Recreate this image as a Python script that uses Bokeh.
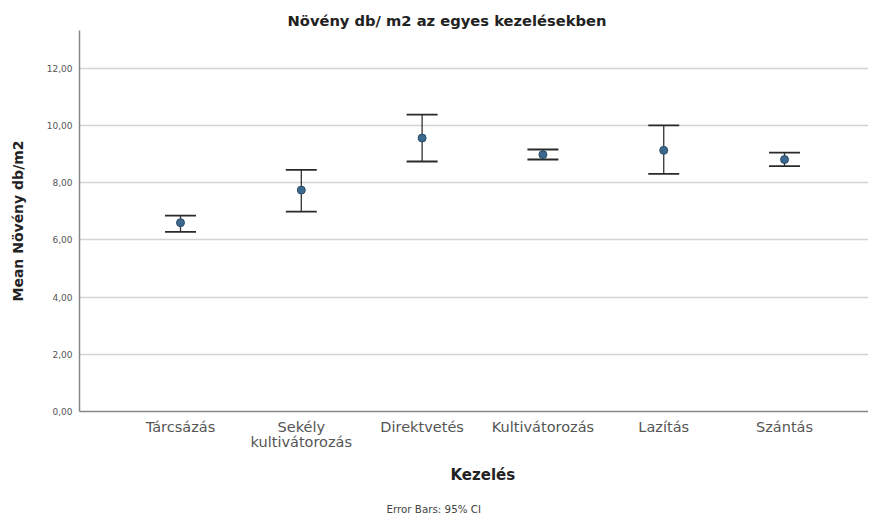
from bokeh.plotting import figure
from bokeh.models import Range1d, FixedTicker, Whisker, TeeHead, ColumnDataSource, Title, LinearAxis
from bokeh.embed import file_html
from bokeh.resources import INLINE

categories = ["Tárcsázás", "Sekély kultivátorozás", "Direktvetés", "Kultivátorozás", "Lazítás", "Szántás"]
tick_line1 = ["Tárcsázás", "Sekély", "Direktvetés", "Kultivátorozás", "Lazítás", "Szántás"]
tick_line2 = ["", "kultivátorozás", "", "", "", ""]
means = [6.60, 7.74, 9.56, 8.98, 9.13, 8.81]
ci_lower = [6.28, 6.99, 8.74, 8.81, 8.31, 8.58]
ci_upper = [6.85, 8.45, 10.38, 9.16, 10.00, 9.05]
y_ticks = [0, 2, 4, 6, 8, 10, 12]
y_tick_labels = ["0,00", "2,00", "4,00", "6,00", "8,00", "10,00", "12,00"]

FONT = "DejaVu Sans"
x_pos = list(range(len(categories)))

p = figure(width=868, height=521, output_backend="svg", toolbar_location=None,
           x_range=Range1d(-0.836, len(categories) - 1 + 0.695),
           y_range=Range1d(0, 13.32),
           min_border_left=79, min_border_right=0, min_border_top=30, min_border_bottom=110)
p.outline_line_color = None
p.background_fill_color = "white"
p.border_fill_color = "white"

p.title.text = "Növény db/ m2 az egyes kezelésekben"
p.title.text_font = FONT
p.title.text_font_size = "14.7px"
p.title.text_font_style = "bold"
p.title.text_color = "#222222"
p.title.align = "left"
p.title.offset = 208
p.title.standoff = 4

# grid
p.xgrid.grid_line_color = None
p.ygrid.grid_line_color = "#d4d4d4"
p.ygrid.grid_line_width = 1.5
p.ygrid.ticker = FixedTicker(ticks=y_ticks)

# y axis
p.yaxis.ticker = FixedTicker(ticks=y_ticks)
p.yaxis.major_label_overrides = {t: l for t, l in zip(y_ticks, y_tick_labels)}
p.yaxis.major_label_text_font = FONT
p.yaxis.major_label_text_font_size = "9px"
p.yaxis.major_label_text_color = "#555555"
p.yaxis.major_tick_out = 0
p.yaxis.major_tick_in = 0
p.yaxis.minor_tick_out = 0
p.yaxis.minor_tick_in = 0
p.yaxis.major_label_standoff = 7
p.yaxis.axis_line_color = "#888888"
p.yaxis.axis_line_width = 1.5
p.yaxis.axis_label = "Mean Növény db/m2"
p.yaxis.axis_label_text_font = FONT
p.yaxis.axis_label_text_font_size = "14px"
p.yaxis.axis_label_text_font_style = "bold"
p.yaxis.axis_label_text_color = "#222222"
p.yaxis.axis_label_standoff = 18

# x axis (first line of category labels)
xa = p.xaxis[0]
xa.ticker = FixedTicker(ticks=x_pos)
xa.major_label_overrides = {i: l for i, l in zip(x_pos, tick_line1)}
xa.major_label_text_font = FONT
xa.major_label_text_font_size = "14.5px"
xa.major_label_text_color = "#555555"
xa.major_tick_out = 0
xa.major_tick_in = 0
xa.minor_tick_out = 0
xa.minor_tick_in = 0
xa.major_label_standoff = 7
xa.axis_line_color = "#888888"
xa.axis_line_width = 1.5

# second line of category labels
xa2 = LinearAxis(ticker=FixedTicker(ticks=x_pos),
                 major_label_overrides={i: l for i, l in zip(x_pos, tick_line2)},
                 major_label_text_font=FONT, major_label_text_font_size="14.5px",
                 major_label_text_color="#555555", major_label_standoff=-4,
                 major_tick_out=0, major_tick_in=0, minor_tick_out=0, minor_tick_in=0,
                 axis_line_color=None)
p.add_layout(xa2, "below")

xtitle = Title(text="Kezelés", align="left", offset=371,
               text_font=FONT, text_font_size="15px", text_font_style="bold",
               text_color="#222222", standoff=22)
p.add_layout(xtitle, "below")

foot = Title(text="Error Bars: 95% CI", align="left", offset=307,
             text_font=FONT, text_font_size="10.3px", text_font_style="normal",
             text_color="#444444", standoff=13)
p.add_layout(foot, "below")

src = ColumnDataSource(dict(x=x_pos, m=means, lo=ci_lower, hi=ci_upper))

w = Whisker(base="x", lower="lo", upper="hi", source=src, dimension="height",
            line_color="#333333", line_width=1.3,
            upper_head=TeeHead(size=31, line_color="#2a2a2a", line_width=1.8),
            lower_head=TeeHead(size=31, line_color="#2a2a2a", line_width=1.8))
p.add_layout(w)

p.scatter(x="x", y="m", source=src, size=8, marker="circle",
          fill_color="#3b688c", line_color="#2c4d68", line_width=1)

open("out.html", "w").write(file_html(p, INLINE))
